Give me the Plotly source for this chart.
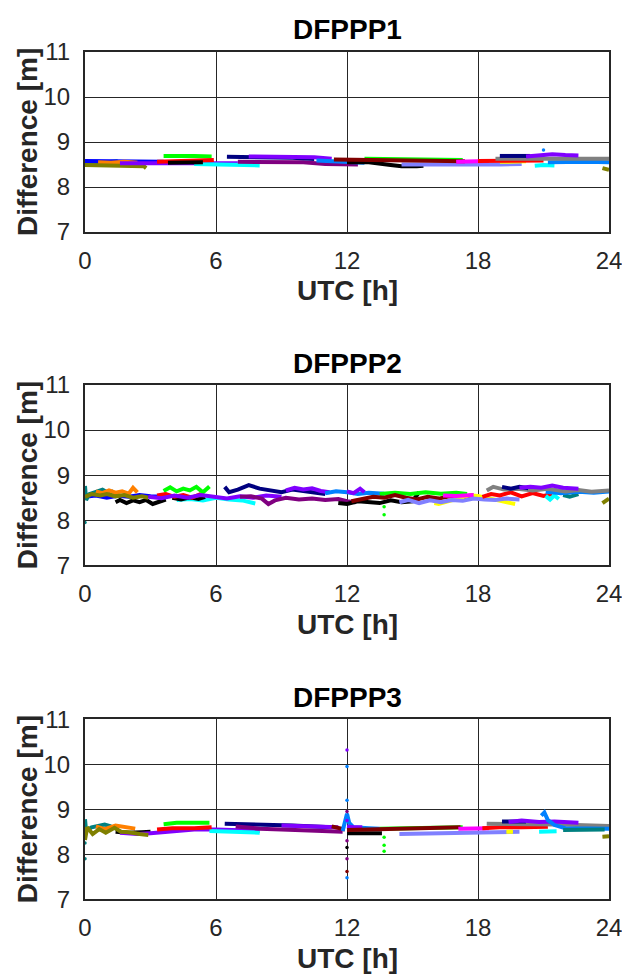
import plotly.graph_objects as go

# ---------------- colours ----------------
COLORS = {
    "blue": "#0000ff", "teal": "#008080", "orange": "#ff8000", "olive": "#808000",
    "green": "#00ff00", "red": "#ff0000", "black": "#000000", "navy": "#000080",
    "violet": "#8000ff", "cyan": "#00ffff", "purple": "#800080", "dodger": "#0080ff",
    "maroon": "#800000", "magenta": "#ff00ff", "slate": "#8080ff", "gray": "#808080",
    "yellow": "#ffff00",
}

PANEL_TITLES = ["DFPPP1", "DFPPP2", "DFPPP3"]
X_TICKS = [0, 6, 12, 18, 24]
Y_TICKS = [7, 8, 9, 10, 11]

# ---------------- DFPPP1 ----------------
p1_teal_t = [0.0, 0.5, 1.0, 1.5]
p1_teal_d = [8.54, 8.56, 8.55, 8.57]
p1_blue_t = [0.0, 1.0, 2.0, 3.0, 3.6]
p1_blue_d = [8.58, 8.58, 8.57, 8.57, 8.56]
p1_orange_t = [0.6, 1.2, 1.8, 2.4]
p1_orange_d = [8.55, 8.54, 8.56, 8.54]
p1_olive_t = [0.0, 0.8, 1.6, 2.4, 2.7, 2.8]
p1_olive_d = [8.49, 8.48, 8.49, 8.48, 8.46, 8.42]
p1_green_t = [3.6, 4.3, 5.0, 5.8]
p1_green_d = [8.69, 8.70, 8.69, 8.68]
p1_red_t = [3.3, 4.2, 5.0, 5.9]
p1_red_d = [8.56, 8.57, 8.58, 8.60]
p1_black_t = [3.8, 4.6, 5.4]
p1_black_d = [8.54, 8.55, 8.55]
p1_violet_t = [1.6, 3.0, 4.5, 6.0, 7.0]
p1_violet_d = [8.53, 8.52, 8.53, 8.53, 8.53]
p1_cyan_t = [5.0, 6.0, 7.0, 8.0]
p1_cyan_d = [8.51, 8.50, 8.49, 8.48]
p1_navy_t = [6.5, 7.5, 8.5, 9.5, 10.5]
p1_navy_d = [8.67, 8.67, 8.66, 8.65, 8.62]
p1_violet2_t = [7.5, 8.5, 9.5, 10.5, 11.3]
p1_violet2_d = [8.68, 8.68, 8.67, 8.66, 8.63]
p1_purple_t = [7.0, 8.5, 10.0, 11.0, 12.5]
p1_purple_d = [8.56, 8.56, 8.55, 8.51, 8.50]
p1_dodger_t = [10.6, 11.0, 11.5, 12.8]
p1_dodger_d = [8.59, 8.58, 8.56, 8.54]
p1_maroon_t = [11.4, 12.5, 14.0, 15.5, 17.4]
p1_maroon_d = [8.61, 8.60, 8.58, 8.57, 8.57]
p1_black2_t = [12.0, 13.0, 14.0, 14.5, 15.2, 15.5]
p1_black2_d = [8.55, 8.55, 8.49, 8.46, 8.46, 8.47]
p1_green2_t = [12.8, 14.0, 15.5, 17.3]
p1_green2_d = [8.63, 8.62, 8.61, 8.60]
p1_slate_t = [14.5, 16.0, 17.5, 19.0, 20.0]
p1_slate_d = [8.50, 8.49, 8.50, 8.50, 8.51]
p1_magenta_t = [17.0, 17.8, 18.5]
p1_magenta_d = [8.56, 8.57, 8.58]
p1_red2_t = [18.0, 19.0, 20.0, 21.0]
p1_red2_d = [8.58, 8.58, 8.58, 8.59]
p1_yellow_t = [19.0, 19.6, 20.2]
p1_yellow_d = [8.56, 8.56, 8.57]
p1_gray_t = [18.8, 20.0, 21.5, 23.0, 24.0]
p1_gray_d = [8.63, 8.63, 8.63, 8.63, 8.63]
p1_navy2_t = [19.0, 19.7, 20.4]
p1_navy2_d = [8.69, 8.69, 8.69]
p1_violet3_t = [20.2, 21.0, 21.4, 22.0, 22.6]
p1_violet3_d = [8.68, 8.70, 8.73, 8.71, 8.70]
p1_cyan2_t = [20.6, 21.0, 21.5]
p1_cyan2_d = [8.47, 8.49, 8.48]
p1_dodger2_t = [21.2, 22.0, 23.0, 24.0]
p1_dodger2_d = [8.55, 8.56, 8.56, 8.55]
p1_olive2_t = [23.7, 23.9, 24.0]
p1_olive2_d = [8.42, 8.40, 8.38]
p1_dot_t = [21.0]
p1_dot_d = [8.82]
p1_dot_c = ["dodger"]

# ---------------- DFPPP2 ----------------
p2_teal_t = [0.0, 0.05, 0.2, 0.5, 0.8, 1.1, 1.3]
p2_teal_d = [8.76, 8.45, 8.58, 8.63, 8.68, 8.60, 8.65]
p2_blue_t = [0.0, 0.5, 1.0, 1.5, 2.0, 2.5, 3.0, 3.5]
p2_blue_d = [8.52, 8.55, 8.50, 8.54, 8.52, 8.56, 8.53, 8.52]
p2_orange_t = [0.5, 0.8, 1.1, 1.4, 1.7, 2.0, 2.2, 2.4]
p2_orange_d = [8.64, 8.60, 8.66, 8.61, 8.64, 8.59, 8.72, 8.62]
p2_olive_t = [0.0, 0.3, 0.7, 1.0, 1.4, 1.8, 2.2, 2.6, 2.9]
p2_olive_d = [8.52, 8.58, 8.55, 8.58, 8.53, 8.56, 8.50, 8.53, 8.50]
p2_black_t = [1.4, 1.6, 1.9, 2.2, 2.5, 2.8, 3.1, 3.4, 3.7]
p2_black_d = [8.40, 8.45, 8.38, 8.44, 8.40, 8.45, 8.36, 8.42, 8.46]
p2_green_t = [3.6, 3.9, 4.2, 4.5, 4.8, 5.1, 5.4, 5.7]
p2_green_d = [8.65, 8.73, 8.64, 8.70, 8.66, 8.74, 8.62, 8.75]
p2_red_t = [3.3, 3.7, 4.1, 4.5, 4.9, 5.3]
p2_red_d = [8.55, 8.58, 8.52, 8.56, 8.50, 8.58]
p2_black2_t = [4.0, 4.4, 4.8, 5.2, 5.5]
p2_black2_d = [8.50, 8.46, 8.51, 8.47, 8.52]
p2_violet_t = [2.9, 3.5, 4.1, 4.7, 5.3, 5.9, 6.5, 7.1, 7.7, 8.3, 9.0]
p2_violet_d = [8.52, 8.49, 8.55, 8.50, 8.56, 8.52, 8.48, 8.53, 8.50, 8.55, 8.52]
p2_cyan_t = [4.2, 4.8, 5.4, 6.0, 6.6, 7.2, 7.8]
p2_cyan_d = [8.45, 8.47, 8.44, 8.50, 8.46, 8.44, 8.37]
p2_navy_t = [6.4, 6.6, 7.0, 7.5, 8.0, 8.5, 9.0, 9.5, 10.0, 10.5, 11.0]
p2_navy_d = [8.74, 8.62, 8.68, 8.78, 8.70, 8.66, 8.62, 8.68, 8.64, 8.60, 8.58]
p2_violet2_t = [9.2, 9.6, 10.0, 10.4, 10.8, 11.2]
p2_violet2_d = [8.66, 8.72, 8.68, 8.71, 8.65, 8.62]
p2_purple_t = [7.1, 7.6, 8.1, 8.4, 8.7, 9.2, 9.8, 10.4, 11.0, 11.6, 12.0, 12.4]
p2_purple_d = [8.52, 8.53, 8.48, 8.36, 8.44, 8.50, 8.46, 8.48, 8.45, 8.47, 8.42, 8.40]
p2_dodger_t = [11.0, 11.5, 12.0, 12.5, 13.0, 13.7]
p2_dodger_d = [8.60, 8.64, 8.62, 8.58, 8.61, 8.59]
p2_black3_t = [11.6, 12.0, 12.5, 13.0, 13.5, 14.0, 14.5, 15.0, 15.3]
p2_black3_d = [8.38, 8.36, 8.42, 8.40, 8.38, 8.44, 8.40, 8.42, 8.62]
p2_violet3_t = [12.0, 12.3, 12.6, 12.8]
p2_violet3_d = [8.64, 8.60, 8.70, 8.62]
p2_maroon_t = [12.2, 12.7, 13.2, 13.7, 14.2, 14.7, 15.2, 15.7, 16.2, 16.7, 17.2, 17.8]
p2_maroon_d = [8.42, 8.48, 8.52, 8.50, 8.56, 8.50, 8.46, 8.52, 8.48, 8.53, 8.50, 8.56]
p2_green2_t = [13.5, 14.2, 14.9, 15.6, 16.3, 17.0, 17.5]
p2_green2_d = [8.58, 8.61, 8.58, 8.62, 8.59, 8.61, 8.58]
p2_slate_t = [14.4, 14.8, 15.3, 15.8, 16.3, 16.8, 17.3, 17.8, 18.3, 18.8, 19.3, 19.9]
p2_slate_d = [8.40, 8.45, 8.38, 8.44, 8.40, 8.45, 8.43, 8.48, 8.46, 8.45, 8.48, 8.46]
p2_magenta_t = [16.4, 17.0, 17.8]
p2_magenta_d = [8.55, 8.54, 8.56]
p2_yellow_t = [16.0, 16.2, 17.6, 18.0, 19.5, 19.7]
p2_yellow_d = [8.38, 8.36, 8.55, 8.54, 8.38, 8.36]
p2_red2_t = [18.2, 18.6, 19.0, 19.5, 20.0, 20.5, 21.0, 21.4]
p2_red2_d = [8.52, 8.58, 8.55, 8.62, 8.53, 8.60, 8.54, 8.58]
p2_gray_t = [18.4, 18.7, 19.2, 19.8, 20.5, 21.2, 22.0, 22.6, 23.2, 24.0]
p2_gray_d = [8.66, 8.74, 8.68, 8.70, 8.66, 8.70, 8.64, 8.67, 8.63, 8.66]
p2_navy2_t = [19.1, 19.5, 19.9, 20.3]
p2_navy2_d = [8.74, 8.70, 8.74, 8.71]
p2_violet4_t = [19.9, 20.4, 20.9, 21.4, 21.9, 22.6]
p2_violet4_d = [8.72, 8.74, 8.72, 8.77, 8.72, 8.70]
p2_cyan2_t = [21.1, 21.3, 21.5, 21.7]
p2_cyan2_d = [8.54, 8.46, 8.55, 8.47]
p2_teal2_t = [21.9, 22.2, 22.6]
p2_teal2_d = [8.56, 8.52, 8.58]
p2_dodger2_t = [21.1, 21.8, 22.6, 23.3, 24.0]
p2_dodger2_d = [8.63, 8.60, 8.63, 8.61, 8.64]
p2_olive2_t = [23.7, 23.85, 24.0]
p2_olive2_d = [8.38, 8.43, 8.48]
p2_dot_t = [13.7, 13.7, 0.0]
p2_dot_d = [8.30, 8.12, 7.95]
p2_dot_c = ["green", "green", "teal"]

# ---------------- DFPPP3 ----------------
p3_teal_t = [0.0, 0.05, 0.3, 0.6, 0.9, 1.2]
p3_teal_d = [8.78, 8.52, 8.60, 8.63, 8.66, 8.62]
p3_orange_t = [0.5, 0.9, 1.4, 1.8, 2.3]
p3_orange_d = [8.62, 8.56, 8.64, 8.60, 8.57]
p3_olive_t = [0.0, 0.1, 0.35, 0.65, 0.95, 1.35, 1.65, 2.0, 2.5, 2.9]
p3_olive_d = [8.32, 8.60, 8.45, 8.56, 8.48, 8.59, 8.50, 8.49, 8.45, 8.43]
p3_black_t = [1.4, 2.0, 2.6, 3.0]
p3_black_d = [8.50, 8.48, 8.49, 8.50]
p3_violet_t = [1.6, 2.4, 3.0, 4.0, 5.0, 6.0, 7.0, 8.0]
p3_violet_d = [8.48, 8.45, 8.47, 8.52, 8.55, 8.55, 8.53, 8.52]
p3_green_t = [3.6, 4.2, 5.0, 5.7]
p3_green_d = [8.67, 8.70, 8.70, 8.70]
p3_red_t = [3.3, 4.0, 5.0, 5.8]
p3_red_d = [8.55, 8.58, 8.58, 8.60]
p3_cyan_t = [5.7, 6.5, 7.3, 8.0]
p3_cyan_d = [8.52, 8.51, 8.50, 8.48]
p3_navy_t = [6.4, 7.5, 8.5, 9.5, 10.5, 11.3]
p3_navy_d = [8.68, 8.67, 8.66, 8.64, 8.62, 8.60]
p3_violet2_t = [9.0, 10.0, 11.0, 11.6]
p3_violet2_d = [8.64, 8.63, 8.62, 8.60]
p3_purple_t = [6.9, 8.0, 9.0, 10.0, 11.0, 11.8]
p3_purple_d = [8.62, 8.57, 8.55, 8.53, 8.51, 8.50]
p3_maroon_t = [11.3, 11.9]
p3_maroon_d = [8.62, 8.55]
p3_dodger_t = [11.8, 12.0, 12.1, 12.3, 13.0, 13.5]
p3_dodger_d = [8.52, 8.90, 8.70, 8.60, 8.58, 8.57]
p3_violet3_t = [12.0, 12.3, 12.7]
p3_violet3_d = [8.62, 8.60, 8.60]
p3_maroon2_t = [12.0, 13.0, 14.0, 15.0, 16.0, 17.2]
p3_maroon2_d = [8.54, 8.55, 8.56, 8.57, 8.58, 8.60]
p3_black2_t = [12.0, 12.8, 13.6]
p3_black2_d = [8.47, 8.47, 8.47]
p3_green2_t = [13.5, 14.5, 15.5, 16.5, 17.3]
p3_green2_d = [8.57, 8.58, 8.58, 8.59, 8.60]
p3_slate_t = [14.4, 15.5, 16.5, 17.5, 18.5, 19.9]
p3_slate_d = [8.45, 8.46, 8.47, 8.48, 8.49, 8.50]
p3_magenta_t = [17.1, 17.8, 18.5]
p3_magenta_d = [8.57, 8.57, 8.58]
p3_red2_t = [18.2, 19.0, 20.0, 21.2]
p3_red2_d = [8.58, 8.60, 8.60, 8.61]
p3_yellow_t = [19.3, 19.6]
p3_yellow_d = [8.50, 8.50]
p3_gray_t = [18.4, 19.5, 20.5, 21.5, 22.5, 24.0]
p3_gray_d = [8.68, 8.68, 8.67, 8.66, 8.65, 8.63]
p3_navy2_t = [19.1, 19.6, 20.2]
p3_navy2_d = [8.73, 8.74, 8.73]
p3_violet4_t = [19.4, 20.0, 20.8, 21.5, 22.6]
p3_violet4_d = [8.72, 8.75, 8.72, 8.73, 8.70]
p3_dodger2_t = [20.9, 21.04, 21.2, 21.5, 22.0, 23.0, 24.0]
p3_dodger2_d = [8.86, 8.93, 8.76, 8.65, 8.58, 8.57, 8.57]
p3_cyan2_t = [20.8, 21.2, 21.6]
p3_cyan2_d = [8.50, 8.50, 8.51]
p3_teal2_t = [21.9, 22.8, 23.8]
p3_teal2_d = [8.54, 8.54, 8.55]
p3_olive2_t = [23.7, 24.0]
p3_olive2_d = [8.39, 8.40]
p3_dot_t = [12.0, 12.0, 12.0, 12.0, 12.0, 12.0, 12.0, 12.0, 12.0, 12.0, 13.7, 13.7, 13.7, 0.0, 0.0]
p3_dot_d = [10.32, 9.95, 9.20, 8.95, 8.30, 8.15, 7.90, 7.62, 7.48, 8.75, 8.38, 8.20, 8.07, 7.90, 8.25]
p3_dot_c = ["violet", "dodger", "dodger", "purple", "purple", "black", "purple", "maroon",
            "dodger", "violet", "green", "green", "green", "teal", "teal"]

PANEL1 = [
    ("teal", p1_teal_t, p1_teal_d), ("blue", p1_blue_t, p1_blue_d),
    ("orange", p1_orange_t, p1_orange_d), ("olive", p1_olive_t, p1_olive_d),
    ("violet", p1_violet_t, p1_violet_d), ("cyan", p1_cyan_t, p1_cyan_d),
    ("green", p1_green_t, p1_green_d), ("red", p1_red_t, p1_red_d),
    ("black", p1_black_t, p1_black_d), ("purple", p1_purple_t, p1_purple_d),
    ("navy", p1_navy_t, p1_navy_d), ("violet", p1_violet2_t, p1_violet2_d),
    ("dodger", p1_dodger_t, p1_dodger_d), ("black", p1_black2_t, p1_black2_d),
    ("slate", p1_slate_t, p1_slate_d), ("green", p1_green2_t, p1_green2_d),
    ("maroon", p1_maroon_t, p1_maroon_d), ("magenta", p1_magenta_t, p1_magenta_d),
    ("yellow", p1_yellow_t, p1_yellow_d), ("red", p1_red2_t, p1_red2_d),
    ("cyan", p1_cyan2_t, p1_cyan2_d), ("dodger", p1_dodger2_t, p1_dodger2_d),
    ("gray", p1_gray_t, p1_gray_d), ("navy", p1_navy2_t, p1_navy2_d),
    ("violet", p1_violet3_t, p1_violet3_d), ("olive", p1_olive2_t, p1_olive2_d),
]
PANEL2 = [
    ("blue", p2_blue_t, p2_blue_d), ("teal", p2_teal_t, p2_teal_d),
    ("orange", p2_orange_t, p2_orange_d), ("black", p2_black_t, p2_black_d),
    ("olive", p2_olive_t, p2_olive_d), ("cyan", p2_cyan_t, p2_cyan_d),
    ("black", p2_black2_t, p2_black2_d), ("green", p2_green_t, p2_green_d),
    ("red", p2_red_t, p2_red_d), ("violet", p2_violet_t, p2_violet_d),
    ("navy", p2_navy_t, p2_navy_d), ("violet", p2_violet2_t, p2_violet2_d),
    ("purple", p2_purple_t, p2_purple_d), ("dodger", p2_dodger_t, p2_dodger_d),
    ("black", p2_black3_t, p2_black3_d), ("violet", p2_violet3_t, p2_violet3_d),
    ("green", p2_green2_t, p2_green2_d), ("maroon", p2_maroon_t, p2_maroon_d),
    ("yellow", p2_yellow_t, p2_yellow_d), ("magenta", p2_magenta_t, p2_magenta_d),
    ("slate", p2_slate_t, p2_slate_d), ("red", p2_red2_t, p2_red2_d),
    ("cyan", p2_cyan2_t, p2_cyan2_d), ("teal", p2_teal2_t, p2_teal2_d),
    ("dodger", p2_dodger2_t, p2_dodger2_d), ("gray", p2_gray_t, p2_gray_d),
    ("navy", p2_navy2_t, p2_navy2_d), ("violet", p2_violet4_t, p2_violet4_d),
    ("olive", p2_olive2_t, p2_olive2_d),
]
PANEL3 = [
    ("teal", p3_teal_t, p3_teal_d), ("orange", p3_orange_t, p3_orange_d),
    ("black", p3_black_t, p3_black_d), ("violet", p3_violet_t, p3_violet_d),
    ("olive", p3_olive_t, p3_olive_d), ("cyan", p3_cyan_t, p3_cyan_d),
    ("green", p3_green_t, p3_green_d), ("red", p3_red_t, p3_red_d),
    ("navy", p3_navy_t, p3_navy_d), ("violet", p3_violet2_t, p3_violet2_d),
    ("purple", p3_purple_t, p3_purple_d), ("maroon", p3_maroon_t, p3_maroon_d),
    ("dodger", p3_dodger_t, p3_dodger_d), ("violet", p3_violet3_t, p3_violet3_d),
    ("black", p3_black2_t, p3_black2_d), ("green", p3_green2_t, p3_green2_d),
    ("maroon", p3_maroon2_t, p3_maroon2_d), ("slate", p3_slate_t, p3_slate_d),
    ("magenta", p3_magenta_t, p3_magenta_d), ("yellow", p3_yellow_t, p3_yellow_d),
    ("red", p3_red2_t, p3_red2_d), ("cyan", p3_cyan2_t, p3_cyan2_d),
    ("gray", p3_gray_t, p3_gray_d), ("navy", p3_navy2_t, p3_navy2_d),
    ("violet", p3_violet4_t, p3_violet4_d), ("dodger", p3_dodger2_t, p3_dodger2_d),
    ("teal", p3_teal2_t, p3_teal2_d), ("olive", p3_olive2_t, p3_olive2_d),
]
PANELS = [PANEL1, PANEL2, PANEL3]
DOTS = [(p1_dot_t, p1_dot_d, p1_dot_c), (p2_dot_t, p2_dot_d, p2_dot_c),
        (p3_dot_t, p3_dot_d, p3_dot_c)]

# ---------------- layout geometry (pixels of the 622x974 page) ----------------
W, H = 622, 974
X_DOM = [85 / W, 609 / W]
PLOT_TOP = [52, 385, 719.3]
PLOT_BOT = [232, 565.3, 899.3]
TITLE_Y = [30, 363, 697]
XTITLE_Y = [290, 624, 958]
FONT = "Liberation Sans, Arial"

fig = go.Figure()
annotations = []
layout_axes = {}
GRID = "#262626"
for i in range(3):
    n = "" if i == 0 else str(i + 1)
    xa, ya = "x" + n, "y" + n
    for cname, tt, dd in PANELS[i]:
        fig.add_trace(go.Scatter(
            x=tt, y=dd, mode="lines", xaxis=xa, yaxis=ya,
            line=dict(color=COLORS[cname], width=4), showlegend=False,
            hoverinfo="skip"))
    dt, dd, dc = DOTS[i]
    fig.add_trace(go.Scatter(
        x=dt, y=dd, mode="markers", xaxis=xa, yaxis=ya,
        marker=dict(color=[COLORS[c] for c in dc], size=3.5), showlegend=False,
        hoverinfo="skip"))
    ydom = [1 - PLOT_BOT[i] / H, 1 - PLOT_TOP[i] / H]
    layout_axes["xaxis" + n] = dict(
        domain=X_DOM, range=[0, 24], tickvals=X_TICKS, anchor=ya, automargin=False,
        showgrid=True, gridcolor=GRID, gridwidth=1.2, zeroline=False,
        showline=True, linecolor=GRID, linewidth=2, mirror=True,
        ticks="outside", ticklen=6, tickcolor="rgba(0,0,0,0)",
        ticklabeloverflow="allow",
        tickfont=dict(family=FONT, size=24, color="#262626"))
    layout_axes["yaxis" + n] = dict(
        domain=ydom, range=[7, 11], tickvals=Y_TICKS, anchor=xa, automargin=False,
        showgrid=True, gridcolor=GRID, gridwidth=1.2, zeroline=False,
        showline=True, linecolor=GRID, linewidth=2, mirror=True,
        ticks="outside", ticklen=8, tickcolor="rgba(0,0,0,0)",
        ticklabeloverflow="allow",
        tickfont=dict(family=FONT, size=24, color="#262626"))
    annotations.append(dict(
        text="<b>" + PANEL_TITLES[i] + "</b>", x=(85 + 609) / 2 / W, y=1 - TITLE_Y[i] / H,
        xref="paper", yref="paper", showarrow=False, xanchor="center", yanchor="middle",
        font=dict(family=FONT, size=28, color="#000000")))
    annotations.append(dict(
        text="<b>UTC [h]</b>", x=(85 + 609) / 2 / W, y=1 - XTITLE_Y[i] / H,
        xref="paper", yref="paper", showarrow=False, xanchor="center", yanchor="middle",
        font=dict(family=FONT, size=28, color="#262626")))
    annotations.append(dict(
        text="<b>Difference [m]</b>", x=27 / W, y=1 - (PLOT_TOP[i] + PLOT_BOT[i]) / 2 / H,
        xref="paper", yref="paper", showarrow=False, xanchor="center", yanchor="middle",
        textangle=-90,
        font=dict(family=FONT, size=28, color="#262626")))

fig.update_layout(
    width=W, height=H, margin=dict(l=0, r=0, t=0, b=0, pad=0, autoexpand=False),
    paper_bgcolor="white", plot_bgcolor="white",
    annotations=annotations, **layout_axes)

fig.write_html(
    "out.html",
    post_script="document.body.style.margin='0';document.body.style.overflow='hidden';")
